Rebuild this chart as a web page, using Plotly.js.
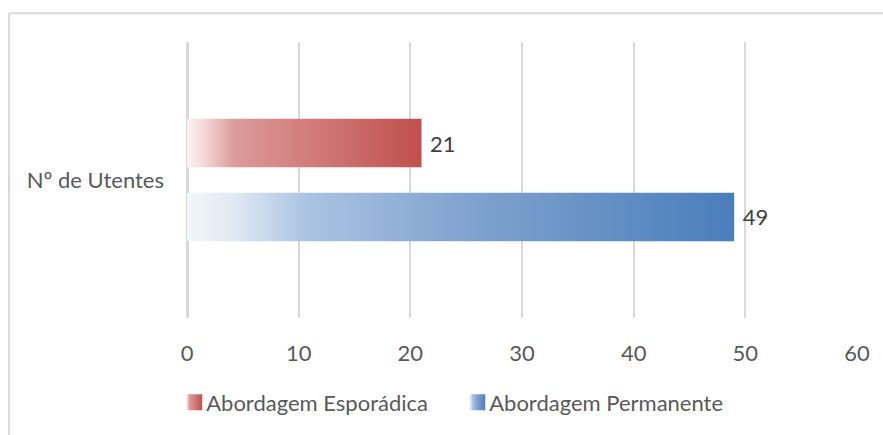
<!DOCTYPE html>
<html>
<head>
<meta charset="utf-8">
<script src="https://cdn.plot.ly/plotly-3.0.1.min.js"></script>
<style>
  html, body { margin: 0; padding: 0; background: #ffffff; }
  #chart { width: 883px; height: 435px; }
</style>
</head>
<body>
<div id="chart"></div>
<script>
// ---- data ----
const categories = ["Nº de Utentes"];
const seriesNames = ["Abordagem Esporádica", "Abordagem Permanente"];
const esporadica = [21];
const permanente = [49];
const xTicks = [0, 10, 20, 30, 40, 50, 60];

// ---- styles ----
const FONT = "Lato, 'Liberation Sans', sans-serif";
const gradients = [
  { id: "gradRed",  stops: [[0, "#fdf3f3"], [0.07, "#f5d9d9"], [0.2, "#dc9c9b"], [0.5, "#d27e7d"], [1, "#c0504d"]] },
  { id: "gradBlue", stops: [[0, "#f3f6fb"], [0.08, "#e2eaf5"], [0.22, "#aac3e2"], [0.5, "#82a4d0"], [1, "#4a7ebb"]] }
];
const solid = ["#d27e7d", "#86a7d2"];

const seriesValues = [esporadica, permanente];
const traces = seriesNames.map((name, i) => ({
  type: "bar",
  orientation: "h",
  name: name,
  y: categories,
  x: seriesValues[i],
  marker: { color: solid[i], line: { width: 0 } },
  text: seriesValues[i].map(String),
  texttemplate: "\u2005%{x}",
  textposition: "outside",
  textfont: { family: FONT, size: 22, color: "#404040" },
  cliponaxis: false,
  hoverinfo: "x+name"
}));

const layout = {
  width: 883,
  height: 435,
  margin: { l: 187, r: 26, t: 42, b: 115, pad: 0 },
  paper_bgcolor: "#ffffff",
  plot_bgcolor: "#ffffff",
  font: { family: FONT, size: 22, color: "#595959" },
  barmode: "group",
  bargap: 0.464,
  bargroupgap: 0.343,
  showlegend: true,
  legend: {
    orientation: "h",
    x: -0.031, xanchor: "left",
    y: -0.306, yanchor: "middle",
    font: { family: FONT, size: 22, color: "#595959" },
    itemwidth: 30,
    entrywidth: 238,
    entrywidthmode: "pixels",
    traceorder: "normal",
    bgcolor: "rgba(0,0,0,0)"
  },
  xaxis: {
    range: [0, 60],
    tickvals: xTicks,
    ticktext: xTicks.map(String),
    showgrid: true,
    gridcolor: "#d9d9d9",
    gridwidth: 2,
    zeroline: true,
    zerolinecolor: "#d9d9d9",
    zerolinewidth: 3,
    showline: false,
    ticks: "",
    ticklabelstandoff: 20,
    tickfont: { family: FONT, size: 22, color: "#595959" },
    fixedrange: true
  },
  yaxis: {
    type: "category",
    autorange: "reversed",
    showgrid: false,
    zeroline: false,
    showline: false,
    ticks: "",
    ticklabelstandoff: 22,
    tickfont: { family: FONT, size: 22, color: "#595959" },
    fixedrange: true
  },
  shapes: [
    { type: "line", xref: "paper", yref: "paper", x0: -0.2657, x1: 1.1, y0: 1.1043, y1: 1.1043,
      line: { color: "#d9d9d9", width: 2 } },
    { type: "line", xref: "paper", yref: "paper", x0: -0.2657, x1: -0.2657, y0: -0.5, y1: 1.1043,
      line: { color: "#d9d9d9", width: 2 } }
  ]
};

function applyGradients(gd) {
  const svg = gd.querySelector("svg.main-svg");
  if (!svg) return;
  let defs = svg.querySelector("defs");
  if (!defs) {
    defs = document.createElementNS("http://www.w3.org/2000/svg", "defs");
    svg.insertBefore(defs, svg.firstChild);
  }
  gradients.forEach(g => {
    if (svg.querySelector("#" + g.id)) return;
    const lg = document.createElementNS("http://www.w3.org/2000/svg", "linearGradient");
    lg.setAttribute("id", g.id);
    lg.setAttribute("x1", "0"); lg.setAttribute("y1", "0");
    lg.setAttribute("x2", "1"); lg.setAttribute("y2", "0");
    g.stops.forEach(s => {
      const st = document.createElementNS("http://www.w3.org/2000/svg", "stop");
      st.setAttribute("offset", s[0]);
      st.setAttribute("stop-color", s[1]);
      lg.appendChild(st);
    });
    defs.appendChild(lg);
  });
  const barTraces = gd.querySelectorAll(".barlayer .trace");
  barTraces.forEach((t, i) => {
    t.querySelectorAll(".point path").forEach(p => {
      p.style.fill = "url(#" + gradients[i].id + ")";
    });
  });
  const legendTraces = gd.querySelectorAll(".legend .traces");
  legendTraces.forEach((t, i) => {
    t.querySelectorAll(".legendpoints path").forEach(p => {
      p.style.fill = "url(#" + gradients[i].id + ")";
      p.setAttribute("d", "M8,8H-8V-8H8Z");
      p.setAttribute("transform", "translate(28,0)");
      p.style.stroke = "none";
    });
  });
}

const gd = document.getElementById("chart");
Plotly.newPlot(gd, traces, layout, { staticPlot: true, displayModeBar: false }).then(() => applyGradients(gd));
</script>
</body>
</html>
